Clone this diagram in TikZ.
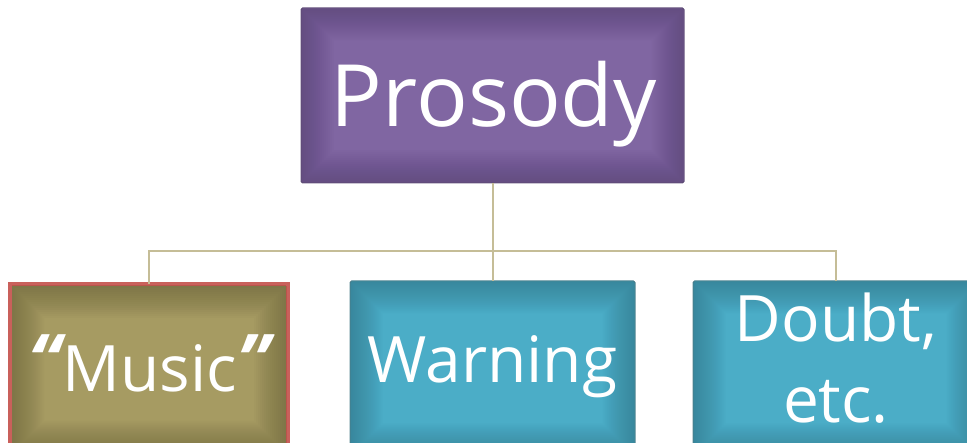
\documentclass[tikz,border=0pt]{standalone}
\usepackage{fontspec}
\setmainfont{Open Sans}
\definecolor{purpC}{HTML}{8066A2}
\definecolor{purpE}{HTML}{4E3A68}
\definecolor{oliveC}{HTML}{A69B62}
\definecolor{oliveE}{HTML}{5A5432}
\definecolor{musRed}{HTML}{C9605B}
\definecolor{tealC}{HTML}{4BADC7}
\definecolor{tealE}{HTML}{2A6675}
\definecolor{linkC}{HTML}{C5BD97}
\tikzset{
  box/.style={rectangle, inner sep=0pt, outer sep=0pt},
  txt/.style={text=white, inner sep=0pt, anchor=base},
  link/.style={draw=linkC, line width=2pt},
}
\newcommand{\glowbox}[3]{%
  \foreach \i in {2,4,...,32}{%
    \fill[#2, fill opacity=0.035, even odd rule]
      ([shift={(#3,-#3)}]#1.north west) rectangle ([shift={(-#3,#3)}]#1.south east)
      ([shift={(\i pt+#3,-\i pt-#3)}]#1.north west) rectangle ([shift={(-\i pt-#3,\i pt+#3)}]#1.south east);
  }%
}
\newcommand{\bq}[1]{{\fontsize{74}{80}\bfseries\itshape\raisebox{4pt}{#1}}}
\begin{document}
\begin{tikzpicture}[x=1pt,y=1pt]
\useasboundingbox (0,0) rectangle (967,-443);
\coordinate (hub) at (492.5,-251);
% boxes
\node[box, fill=purpC, draw=purpE!85, line width=1pt, rounded corners=1.5pt, minimum width=383pt, minimum height=175pt] (p) at (492.5,-95.5) {};
\node[box, fill=oliveC, draw=musRed, line width=4pt, minimum width=278pt, minimum height=171pt] (m) at (149,-369.5) {};
\node[box, fill=tealC, draw=tealE!80, line width=1pt, rounded corners=1.5pt, minimum width=285pt, minimum height=175pt] (w) at (492.5,-368.5) {};
\node[box, fill=tealC, draw=tealE!80, line width=1pt, rounded corners=1.5pt, minimum width=286pt, minimum height=175pt] (d) at (836,-368.5) {};
% connectors
\draw[link] (p.south) -- (hub);
\draw[link] (m.north) |- (hub) -| (d.north);
\draw[link] (hub) -- (w.north);
% inner glows
\glowbox{p}{purpE}{0.5pt}
\glowbox{m}{oliveE}{2pt}
\glowbox{w}{tealE}{0.5pt}
\glowbox{d}{tealE}{0.5pt}
% texts
\node[txt, font=\fontsize{86}{100}\selectfont] (pt) at (494,-127) {Prosody};
\node[txt, font=\fontsize{64}{80}\selectfont] (mt) at (149,-392) {\bq{“}\kern2pt Music\bq{”}};
\node[txt, font=\fontsize{64}{80}\selectfont] (wt) at (492.5,-383) {Warning};
\node[txt, font=\fontsize{64}{80}\selectfont] (dt1) at (836,-342) {Doubt,};
\node[txt, font=\fontsize{64}{80}\selectfont] (dt2) at (836,-423) {etc.};
\end{tikzpicture}
\end{document}
